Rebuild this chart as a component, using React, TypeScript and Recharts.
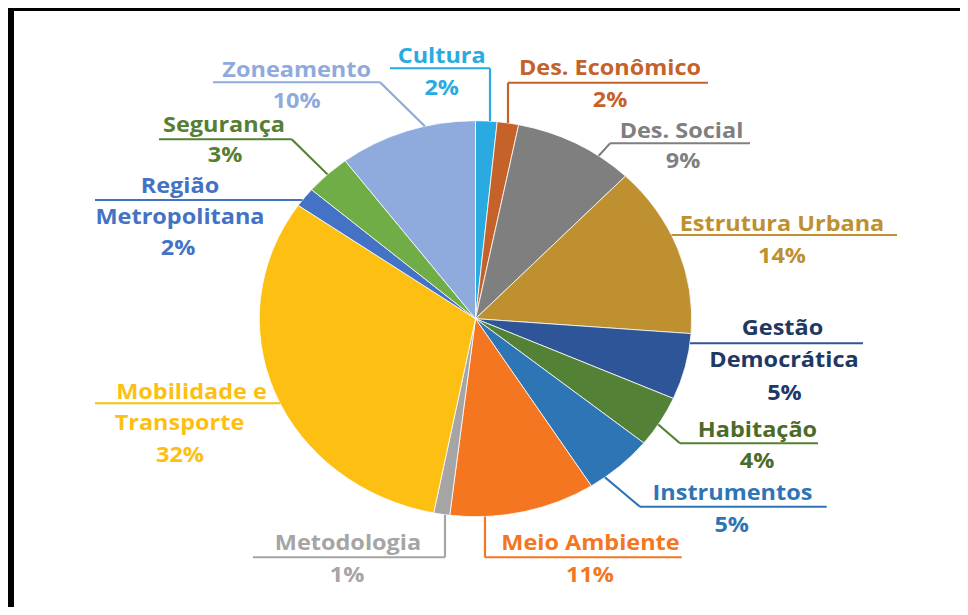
import { Cell, Pie, PieChart } from "recharts";

// categories clockwise from 12 o'clock
const categories = [
  "Cultura",
  "Des. Econômico",
  "Des. Social",
  "Estrutura Urbana",
  "Gestão Democrática",
  "Habitação",
  "Instrumentos",
  "Meio Ambiente",
  "Metodologia",
  "Mobilidade e Transporte",
  "Região Metropolitana",
  "Segurança",
  "Zoneamento",
];

// share of each theme (%)
const shares = [1.6, 1.6, 9.0, 14.0, 5.4, 4.2, 5.2, 10.9, 1.2, 31.6, 1.6, 3.4, 10.3];

const sliceColors = [
  "#29ABE2", "#C5622A", "#7F7F7F", "#BE902F", "#2E5597", "#538135", "#2E75B6",
  "#F47621", "#A5A5A5", "#FCBF12", "#4472C4", "#70AD47", "#8FAADC",
];

const textColors = [
  "#29ABE2", "#C5622A", "#7F7F7F", "#BE902F", "#203864", "#4B6B2A", "#2E75B6",
  "#F47621", "#A5A5A5", "#FCBF12", "#4472C4", "#557F33", "#8FAADC",
];

const lineColors = [
  "#29ABE2", "#C5622A", "#7F7F7F", "#BE902F", "#2E5597", "#548235", "#2E75B6",
  "#F47621", "#A5A5A5", "#FCBF12", "#4472C4", "#548235", "#8FAADC",
];

const data = categories.map((name, i) => ({ name, value: shares[i] }));

// the original picture is stretched sideways, so the whole chart is too
const SX = 1.092;
const CX = 475.5 / SX;
const CY = 318.7;
const R = 198;
const RAD = Math.PI / 180;

type Leader = "v" | "h" | "d";
type LabelLayout = {
  lines: [number, number][];
  pct: [number, number];
  ul: [number, number, number]; // near end x, far end x, y (page px)
  kind: Leader;
  shift?: number;
};

// label placement in page pixels
const labelLayout: LabelLayout[] = [
  { lines: [[441.7, 63]], pct: [441.7, 95], ul: [490, 390, 68.3], kind: "v" },
  { lines: [[610, 75]], pct: [610, 107], ul: [508, 708, 82.7], kind: "v" },
  { lines: [[681.5, 138.5]], pct: [683, 168.5], ul: [610, 750, 143.3], kind: "d", shift: 7 },
  { lines: [[782, 231]], pct: [782, 263], ul: [0, 897, 235], kind: "h" },
  { lines: [[782.5, 335], [784, 366.7]], pct: [784.5, 400], ul: [0, 863, 343.3], kind: "h" },
  { lines: [[757.5, 436.7]], pct: [757, 468.3], ul: [680, 818, 443.3], kind: "d", shift: 1 },
  { lines: [[732.5, 500]], pct: [731.7, 531.7], ul: [640, 826.7, 506.7], kind: "d", shift: 5 },
  { lines: [[590.5, 550]], pct: [590, 581.7], ul: [485, 681.7, 557.3], kind: "v" },
  { lines: [[348, 550]], pct: [347, 581.7], ul: [445, 253, 557.3], kind: "v" },
  { lines: [[191.5, 399], [179.5, 430]], pct: [180, 462], ul: [0, 95, 403.3], kind: "h" },
  { lines: [[180, 193.3], [180, 224]], pct: [178, 255], ul: [0, 95, 200], kind: "h" },
  { lines: [[224, 131.7]], pct: [225, 161.7], ul: [291.7, 159, 139.3], kind: "d", shift: 0 },
  { lines: [[296.7, 76.7]], pct: [296.7, 108], ul: [380, 213, 82.3], kind: "d", shift: 5 },
];

function splitName(name: string, n: number) {
  if (n < 2) return [name];
  const words = name.split(" ");
  return [words.slice(0, -1).join(" "), words[words.length - 1]];
}

function renderLabel(props: any) {
  const { index, midAngle, percent, name } = props;
  const lay = labelLayout[index];
  if (!lay) return null;
  const ulY = lay.ul[2];
  const far = lay.ul[1] / SX;
  let near = lay.ul[0] / SX;
  let leader: string | null = null;

  if (lay.kind === "h") {
    const dx = Math.sqrt(R * R - (ulY - CY) * (ulY - CY));
    near = far > CX ? CX + dx : CX - dx;
  } else if (lay.kind === "v") {
    const dy = Math.sqrt(R * R - (near - CX) * (near - CX));
    const arcY = ulY < CY ? CY - dy : CY + dy;
    leader = `M${near},${ulY}L${near},${arcY}`;
  } else {
    const a = (midAngle - (lay.shift ?? 0)) * RAD;
    const ax = CX + R * Math.cos(-a);
    const ay = CY + R * Math.sin(-a);
    leader = `M${ax},${ay}L${near},${ulY}`;
  }

  const names = splitName(name, lay.lines.length);
  const textProps = {
    fill: textColors[index],
    fontSize: 21.5,
    fontWeight: 700,
    fontFamily: "'Open Sans', sans-serif",
    textAnchor: "middle" as const,
  };

  return (
    <g key={`lbl-${index}`}>
      <path d={`M${near},${ulY}L${far},${ulY}`} stroke={lineColors[index]} strokeWidth={2} fill="none" />
      {leader && <path d={leader} stroke={lineColors[index]} strokeWidth={2} fill="none" />}
      {names.map((t, k) => (
        <text key={k} x={lay.lines[k][0] / SX} y={lay.lines[k][1]} {...textProps}>
          {t}
        </text>
      ))}
      <text x={lay.pct[0] / SX} y={lay.pct[1]} {...textProps}>
        {`${Math.round(percent * 100)}%`}
      </text>
    </g>
  );
}

export default function App() {
  return (
    <div style={{ position: "relative", width: 968, height: 615, margin: -8, overflow: "hidden", background: "#fff" }}>
      <div
        style={{
          position: "absolute",
          left: 8,
          top: 5,
          right: 0,
          bottom: -10,
          borderTop: "6px solid #000",
          borderLeft: "6px solid #000",
        }}
      />
      <div
        style={{
          position: "absolute",
          left: 0,
          top: 0,
          transform: `scaleX(${SX})`,
          transformOrigin: "0 0",
        }}
      >
        <PieChart width={887} height={615} margin={{ top: 0, right: 0, bottom: 0, left: 0 }}>
          <Pie
            data={data}
            dataKey="value"
            nameKey="name"
            cx={CX}
            cy={CY}
            outerRadius={R}
            startAngle={90}
            endAngle={-270}
            stroke="#fff"
            strokeWidth={0.75}
            label={renderLabel}
            labelLine={false}
            isAnimationActive={false}
          >
            {data.map((d, i) => (
              <Cell key={d.name} fill={sliceColors[i]} />
            ))}
          </Pie>
        </PieChart>
      </div>
    </div>
  );
}
